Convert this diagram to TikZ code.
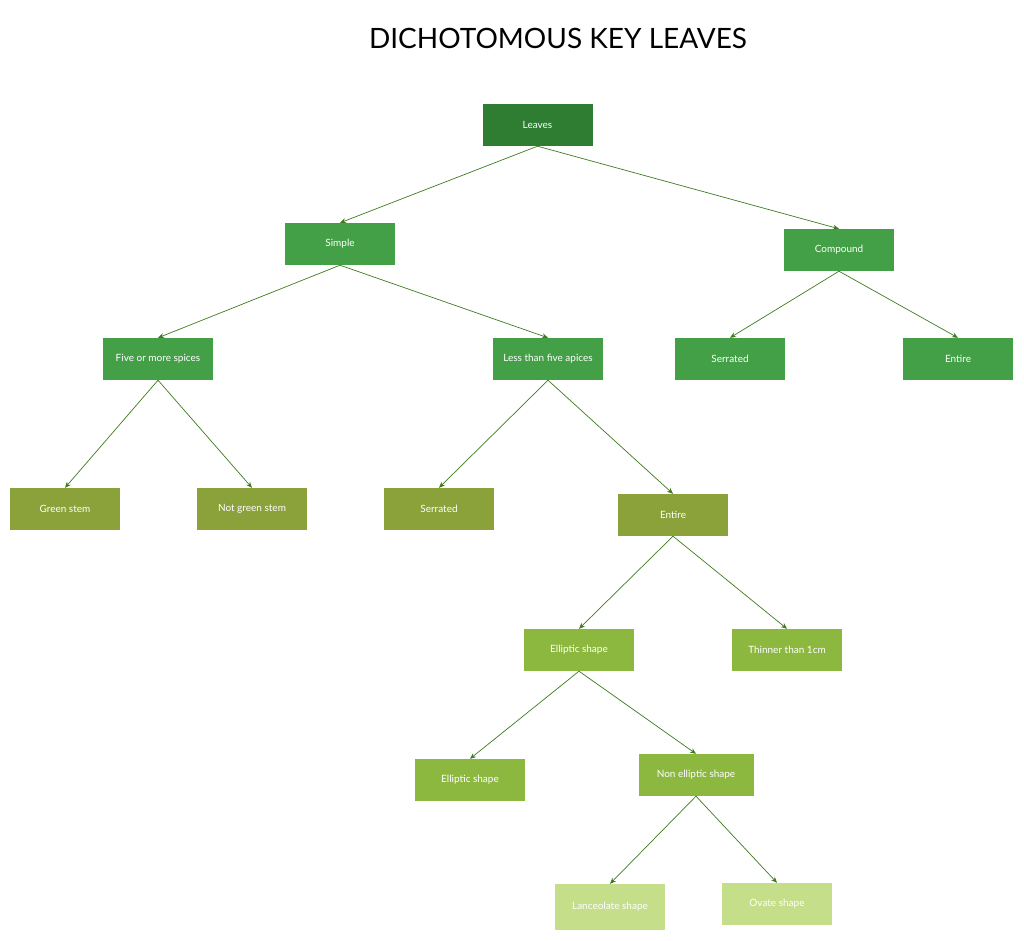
\documentclass[tikz,border=0pt]{standalone}
\usepackage{fontspec}
\setmainfont{Lato}
\usetikzlibrary{arrows.meta}
\definecolor{cA}{HTML}{2E7D32}
\definecolor{cB}{HTML}{43A047}
\definecolor{cC}{HTML}{8BA13A}
\definecolor{cD}{HTML}{8DB83F}
\definecolor{cE}{HTML}{C5DE8A}
\definecolor{ln}{HTML}{3D7A1E}
\tikzset{box/.style={minimum width=110pt,minimum height=42pt,inner sep=0pt,text=white,font=\fontsize{10}{12}\selectfont},
 ar/.style={draw=ln,line width=0.7pt,-{Stealth[length=6pt,width=5pt]}}}
\begin{document}
\begin{tikzpicture}[x=1pt,y=-1pt]
\useasboundingbox (0,0) rectangle (1024,941);
\node at (558,38) {\fontsize{28}{32}\selectfont DICHOTOMOUS KEY LEAVES};
\node[box,fill=cA] (l) at (537.5,125) {Leaves};
\node[box,fill=cB] (s) at (340,244) {Simple};
\node[box,fill=cB] (c) at (839,250) {Compound};
\node[box,fill=cB] (f) at (158,359) {Five or more spices};
\node[box,fill=cB] (ls) at (548,359) {Less than five apices};
\node[box,fill=cB] (cs) at (730,359) {Serrated};
\node[box,fill=cB] (ce) at (958,359) {Entire};
\node[box,fill=cC] (g) at (65,509) {Green stem};
\node[box,fill=cC] (ng) at (252,509) {Not green stem};
\node[box,fill=cC] (se) at (439,509) {Serrated};
\node[box,fill=cC] (e) at (673,515) {Entire};
\node[box,fill=cD] (el) at (579,650) {Elliptic shape};
\node[box,fill=cD] (t) at (787,650) {Thinner than 1cm};
\node[box,fill=cD] (el2) at (470,780) {Elliptic shape};
\node[box,fill=cD,minimum width=115pt] (ne) at (696,775) {Non elliptic shape};
\node[box,fill=cE,minimum height=46pt] (la) at (610,907) {Lanceolate shape};
\node[box,fill=cE] (ov) at (777,904) {Ovate shape};
\foreach \a/\b in {l/s,l/c,s/f,s/ls,c/cs,c/ce,f/g,f/ng,ls/se,ls/e,e/el,e/t,el/el2,el/ne,ne/la,ne/ov}
  \draw[ar] (\a.south) -- (\b.north);
\end{tikzpicture}
\end{document}
